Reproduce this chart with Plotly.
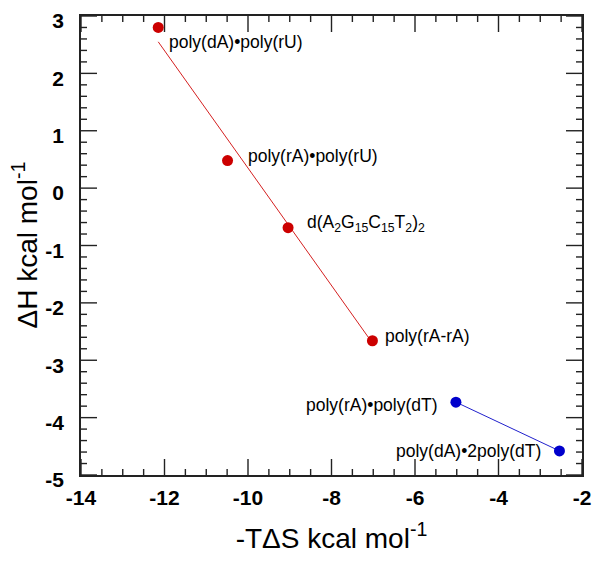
import numpy as np
import plotly.graph_objects as go

# Data
red_x = [-12.15, -10.49, -9.04, -7.02]
red_y = [2.80, 0.48, -0.69, -2.66]
red_labels = ["poly(dA)•poly(rU)", "poly(rA)•poly(rU)",
              "d(A<sub>2</sub>G<sub>15</sub>C<sub>15</sub>T<sub>2</sub>)<sub>2</sub>",
              "poly(rA-rA)"]

blue_x = [-5.02, -2.54]
blue_y = [-3.73, -4.58]
blue_labels = ["poly(rA)•poly(dT)", "poly(dA)•2poly(dT)"]

fit_x = [-12.15, -7.02]
fit_y = [2.55, -2.70]

x_ticks = [-14, -12, -10, -8, -6, -4, -2]
y_ticks = [-5, -4, -3, -2, -1, 0, 1, 2, 3]
x_minor_step = 0.5
y_minor_step = 0.2

x_title = "-TΔS kcal mol<sup>-1</sup>"
y_title = "ΔH kcal mol<sup>-1</sup>"

RED = "#cc0000"
BLUE = "#0000cc"
AXC = "#222222"
FONT = "Liberation Sans, Arial, sans-serif"

W, H = 592, 553          # page body has an 8px default margin
ML, MR, MT, MB = 73, 18, 8, 86
x_range = [x_ticks[0], x_ticks[-1]]
y_range = [y_ticks[0], y_ticks[-1]]
# data units per pixel, from the layout
xpp = (x_range[1] - x_range[0]) / (W - ML - MR)
ypp = (y_range[1] - y_range[0]) / (H - MT - MB)

fig = go.Figure()

# inside tick marks on all four sides, built from the tick values
x_minor = [v for v in np.arange(x_range[0], x_range[1] + 1e-9, x_minor_step)
           if all(abs(v - t) > 1e-6 for t in x_ticks)]
y_minor = [v for v in np.arange(y_range[0], y_range[1] + 1e-9, y_minor_step)
           if all(abs(v - t) > 1e-6 for t in y_ticks)]
tx, ty = [], []
for vals, ln in [(x_ticks, 16), (x_minor, 6)]:
    for v in vals:
        tx += [v, v, None, v, v, None]
        ty += [y_range[0], y_range[0] + ln * ypp, None,
               y_range[1], y_range[1] - ln * ypp, None]
for vals, ln in [(y_ticks, 16), (y_minor, 6)]:
    for v in vals:
        ty += [v, v, None, v, v, None]
        tx += [x_range[0], x_range[0] + ln * xpp, None,
               x_range[1], x_range[1] - ln * xpp, None]
fig.add_trace(go.Scatter(x=tx, y=ty, mode="lines", line=dict(color=AXC, width=1.4),
                         hoverinfo="skip", showlegend=False, cliponaxis=False))

fig.add_trace(go.Scatter(x=fit_x, y=fit_y, mode="lines",
                         line=dict(color="#d42020", width=1), showlegend=False))
fig.add_trace(go.Scatter(x=red_x, y=red_y, mode="markers",
                         marker=dict(color=RED, size=11), showlegend=False))
fig.add_trace(go.Scatter(x=blue_x, y=blue_y, mode="lines+markers",
                         line=dict(color="#2020cc", width=1),
                         marker=dict(color=BLUE, size=11), showlegend=False))

# label placement (style): anchor, x shift, y shift in pixels
red_place = [("left", 9, -15), ("left", 18, 5), ("left", 17, 4), ("left", 11, 5)]
blue_place = [("right", -16, -3), ("right", -16, 0)]

annotations = []
for xs, ys, labs, places in [(red_x, red_y, red_labels, red_place),
                             (blue_x, blue_y, blue_labels, blue_place)]:
    for x, y, t, (anc, dx, dy) in zip(xs, ys, labs, places):
        annotations.append(dict(x=x, y=y, xref="x", yref="y", text=t,
                                showarrow=False, xanchor=anc, yanchor="middle",
                                xshift=dx, yshift=dy,
                                font=dict(family=FONT, size=17.5, color="black")))

# y-axis title as a rotated annotation, left of the tick labels
annotations.append(dict(x=0, y=0.5, xref="paper", yref="paper", text=y_title,
                        textangle=-90, showarrow=False, xanchor="center",
                        yanchor="middle", xshift=-56,
                        font=dict(family=FONT, size=28, color="black")))

axis_common = dict(
    showline=True, linecolor=AXC, linewidth=1.5, mirror=True,
    ticks="", showgrid=False, zeroline=False, automargin=False,
    ticklabeloverflow="allow",
    tickfont=dict(family=FONT, size=21, color="black", weight="bold"),
)

fig.update_layout(
    width=W, height=H,
    margin=dict(l=ML, r=MR, t=MT, b=MB),
    plot_bgcolor="white", paper_bgcolor="white",
    annotations=annotations,
    xaxis=dict(range=x_range, tickmode="array", tickvals=x_ticks,
               ticktext=[str(v) for v in x_ticks], ticklabelstandoff=3,
               title=dict(text=x_title, standoff=20,
                          font=dict(family=FONT, size=28, color="black")),
               **axis_common),
    yaxis=dict(range=y_range, tickmode="array", tickvals=y_ticks,
               ticktext=[str(v) for v in y_ticks], ticklabelstandoff=11,
               ticklabelshift=5,
               **axis_common),
)

fig.write_html("out.html")
